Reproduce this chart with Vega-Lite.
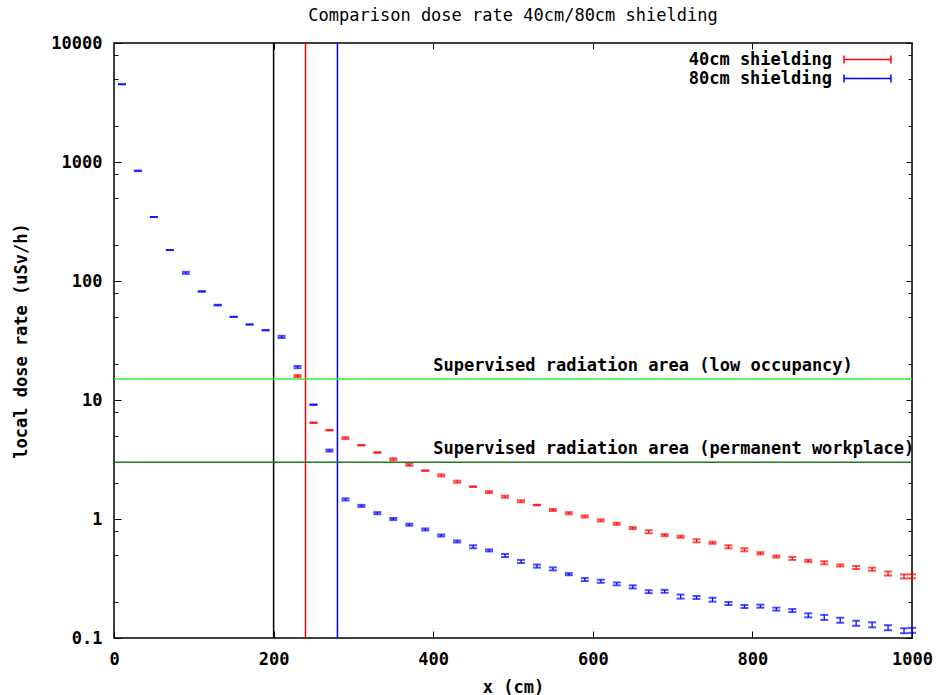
{
  "$schema": "https://vega.github.io/schema/vega-lite/v6.json",
  "width": 798,
  "height": 595,
  "autosize": "none",
  "padding": {"left": 114, "top": 43, "right": 26, "bottom": 57},
  "background": "white",
  "title": {
    "text": "Comparison dose rate 40cm/80cm shielding",
    "font": "DejaVu Sans Mono",
    "fontSize": 17,
    "fontWeight": "normal",
    "color": "black",
    "anchor": "middle",
    "baseline": "alphabetic",
    "offset": -4
  },
  "config": {
    "view": {"stroke": "black", "strokeWidth": 1.5},
    "axis": {
      "domain": false,
      "grid": false,
      "tickColor": "black",
      "tickWidth": 1,
      "labelFont": "DejaVu Sans Mono",
      "labelFontSize": 17,
      "labelFontWeight": "bold",
      "labelColor": "black",
      "labelFlush": false,
      "labelOverlap": false,
      "titleFont": "DejaVu Sans Mono",
      "titleFontSize": 17,
      "titleFontWeight": "bold",
      "titleColor": "black"
    },
    "text": {"font": "DejaVu Sans Mono", "fontSize": 17, "fontWeight": "bold", "color": "black"}
  },
  "datasets": {
    "dose": [
      {"series": "40cm shielding", "x": 230, "y": 15.9, "lo": 15.6, "hi": 16.2},
      {"series": "40cm shielding", "x": 250, "y": 6.44, "lo": 6.40, "hi": 6.48},
      {"series": "40cm shielding", "x": 270, "y": 5.58, "lo": 5.55, "hi": 5.61},
      {"series": "40cm shielding", "x": 290, "y": 4.78, "lo": 4.69, "hi": 4.87},
      {"series": "40cm shielding", "x": 310, "y": 4.17, "lo": 4.15, "hi": 4.19},
      {"series": "40cm shielding", "x": 330, "y": 3.62, "lo": 3.60, "hi": 3.64},
      {"series": "40cm shielding", "x": 350, "y": 3.18, "lo": 3.12, "hi": 3.24},
      {"series": "40cm shielding", "x": 370, "y": 2.85, "lo": 2.80, "hi": 2.91},
      {"series": "40cm shielding", "x": 390, "y": 2.55, "lo": 2.54, "hi": 2.56},
      {"series": "40cm shielding", "x": 410, "y": 2.32, "lo": 2.28, "hi": 2.37},
      {"series": "40cm shielding", "x": 430, "y": 2.06, "lo": 2.02, "hi": 2.10},
      {"series": "40cm shielding", "x": 450, "y": 1.87, "lo": 1.86, "hi": 1.88},
      {"series": "40cm shielding", "x": 470, "y": 1.68, "lo": 1.65, "hi": 1.71},
      {"series": "40cm shielding", "x": 490, "y": 1.54, "lo": 1.51, "hi": 1.57},
      {"series": "40cm shielding", "x": 510, "y": 1.41, "lo": 1.383, "hi": 1.438},
      {"series": "40cm shielding", "x": 530, "y": 1.31, "lo": 1.302, "hi": 1.318},
      {"series": "40cm shielding", "x": 550, "y": 1.19, "lo": 1.167, "hi": 1.213},
      {"series": "40cm shielding", "x": 570, "y": 1.12, "lo": 1.098, "hi": 1.142},
      {"series": "40cm shielding", "x": 590, "y": 1.05, "lo": 1.030, "hi": 1.071},
      {"series": "40cm shielding", "x": 610, "y": 0.973, "lo": 0.954, "hi": 0.992},
      {"series": "40cm shielding", "x": 630, "y": 0.912, "lo": 0.894, "hi": 0.930},
      {"series": "40cm shielding", "x": 650, "y": 0.839, "lo": 0.823, "hi": 0.855},
      {"series": "40cm shielding", "x": 670, "y": 0.781, "lo": 0.759, "hi": 0.804},
      {"series": "40cm shielding", "x": 690, "y": 0.733, "lo": 0.719, "hi": 0.747},
      {"series": "40cm shielding", "x": 710, "y": 0.709, "lo": 0.695, "hi": 0.723},
      {"series": "40cm shielding", "x": 730, "y": 0.656, "lo": 0.637, "hi": 0.675},
      {"series": "40cm shielding", "x": 750, "y": 0.631, "lo": 0.619, "hi": 0.643},
      {"series": "40cm shielding", "x": 770, "y": 0.584, "lo": 0.567, "hi": 0.601},
      {"series": "40cm shielding", "x": 790, "y": 0.551, "lo": 0.535, "hi": 0.567},
      {"series": "40cm shielding", "x": 810, "y": 0.516, "lo": 0.506, "hi": 0.526},
      {"series": "40cm shielding", "x": 830, "y": 0.484, "lo": 0.475, "hi": 0.493},
      {"series": "40cm shielding", "x": 850, "y": 0.466, "lo": 0.453, "hi": 0.480},
      {"series": "40cm shielding", "x": 870, "y": 0.445, "lo": 0.436, "hi": 0.454},
      {"series": "40cm shielding", "x": 890, "y": 0.428, "lo": 0.416, "hi": 0.441},
      {"series": "40cm shielding", "x": 910, "y": 0.407, "lo": 0.399, "hi": 0.415},
      {"series": "40cm shielding", "x": 930, "y": 0.391, "lo": 0.380, "hi": 0.403},
      {"series": "40cm shielding", "x": 950, "y": 0.379, "lo": 0.368, "hi": 0.390},
      {"series": "40cm shielding", "x": 970, "y": 0.348, "lo": 0.335, "hi": 0.362},
      {"series": "40cm shielding", "x": 990, "y": 0.329, "lo": 0.3165, "hi": 0.342},
      {"series": "40cm shielding", "x": 1000, "y": 0.330, "lo": 0.3175, "hi": 0.343},
      {"series": "80cm shielding", "x": 10, "y": 4500, "lo": 4500, "hi": 4500},
      {"series": "80cm shielding", "x": 30, "y": 843, "lo": 838, "hi": 848},
      {"series": "80cm shielding", "x": 50, "y": 345, "lo": 345, "hi": 345},
      {"series": "80cm shielding", "x": 70, "y": 182, "lo": 182, "hi": 182},
      {"series": "80cm shielding", "x": 90, "y": 117, "lo": 114.8, "hi": 119.3},
      {"series": "80cm shielding", "x": 110, "y": 81.7, "lo": 81.2, "hi": 82.2},
      {"series": "80cm shielding", "x": 130, "y": 62.7, "lo": 62.3, "hi": 63.1},
      {"series": "80cm shielding", "x": 150, "y": 50, "lo": 50, "hi": 50},
      {"series": "80cm shielding", "x": 170, "y": 43.1, "lo": 43.1, "hi": 43.1},
      {"series": "80cm shielding", "x": 190, "y": 38.6, "lo": 38.4, "hi": 38.8},
      {"series": "80cm shielding", "x": 210, "y": 33.9, "lo": 33.2, "hi": 34.6},
      {"series": "80cm shielding", "x": 230, "y": 18.9, "lo": 18.5, "hi": 19.3},
      {"series": "80cm shielding", "x": 250, "y": 9.13, "lo": 9.08, "hi": 9.18},
      {"series": "80cm shielding", "x": 270, "y": 3.76, "lo": 3.69, "hi": 3.83},
      {"series": "80cm shielding", "x": 290, "y": 1.46, "lo": 1.43, "hi": 1.49},
      {"series": "80cm shielding", "x": 310, "y": 1.29, "lo": 1.265, "hi": 1.315},
      {"series": "80cm shielding", "x": 330, "y": 1.12, "lo": 1.098, "hi": 1.142},
      {"series": "80cm shielding", "x": 350, "y": 1.0, "lo": 0.981, "hi": 1.020},
      {"series": "80cm shielding", "x": 370, "y": 0.895, "lo": 0.878, "hi": 0.913},
      {"series": "80cm shielding", "x": 390, "y": 0.817, "lo": 0.801, "hi": 0.833},
      {"series": "80cm shielding", "x": 410, "y": 0.727, "lo": 0.713, "hi": 0.741},
      {"series": "80cm shielding", "x": 430, "y": 0.647, "lo": 0.635, "hi": 0.660},
      {"series": "80cm shielding", "x": 450, "y": 0.584, "lo": 0.567, "hi": 0.601},
      {"series": "80cm shielding", "x": 470, "y": 0.544, "lo": 0.534, "hi": 0.555},
      {"series": "80cm shielding", "x": 490, "y": 0.493, "lo": 0.479, "hi": 0.508},
      {"series": "80cm shielding", "x": 510, "y": 0.440, "lo": 0.427, "hi": 0.453},
      {"series": "80cm shielding", "x": 530, "y": 0.402, "lo": 0.390, "hi": 0.414},
      {"series": "80cm shielding", "x": 550, "y": 0.381, "lo": 0.370, "hi": 0.392},
      {"series": "80cm shielding", "x": 570, "y": 0.344, "lo": 0.337, "hi": 0.351},
      {"series": "80cm shielding", "x": 590, "y": 0.310, "lo": 0.301, "hi": 0.319},
      {"series": "80cm shielding", "x": 610, "y": 0.300, "lo": 0.291, "hi": 0.309},
      {"series": "80cm shielding", "x": 630, "y": 0.285, "lo": 0.277, "hi": 0.293},
      {"series": "80cm shielding", "x": 650, "y": 0.269, "lo": 0.261, "hi": 0.277},
      {"series": "80cm shielding", "x": 670, "y": 0.245, "lo": 0.238, "hi": 0.252},
      {"series": "80cm shielding", "x": 690, "y": 0.247, "lo": 0.240, "hi": 0.254},
      {"series": "80cm shielding", "x": 710, "y": 0.223, "lo": 0.2145, "hi": 0.2318},
      {"series": "80cm shielding", "x": 730, "y": 0.219, "lo": 0.2127, "hi": 0.2255},
      {"series": "80cm shielding", "x": 750, "y": 0.210, "lo": 0.202, "hi": 0.218},
      {"series": "80cm shielding", "x": 770, "y": 0.195, "lo": 0.1894, "hi": 0.2008},
      {"series": "80cm shielding", "x": 790, "y": 0.184, "lo": 0.1787, "hi": 0.1894},
      {"series": "80cm shielding", "x": 810, "y": 0.185, "lo": 0.1797, "hi": 0.1905},
      {"series": "80cm shielding", "x": 830, "y": 0.175, "lo": 0.170, "hi": 0.180},
      {"series": "80cm shielding", "x": 850, "y": 0.170, "lo": 0.1651, "hi": 0.175},
      {"series": "80cm shielding", "x": 870, "y": 0.155, "lo": 0.1491, "hi": 0.1611},
      {"series": "80cm shielding", "x": 890, "y": 0.149, "lo": 0.1419, "hi": 0.1564},
      {"series": "80cm shielding", "x": 910, "y": 0.141, "lo": 0.1343, "hi": 0.148},
      {"series": "80cm shielding", "x": 930, "y": 0.133, "lo": 0.1267, "hi": 0.1396},
      {"series": "80cm shielding", "x": 950, "y": 0.129, "lo": 0.1229, "hi": 0.1354},
      {"series": "80cm shielding", "x": 970, "y": 0.122, "lo": 0.1162, "hi": 0.1281},
      {"series": "80cm shielding", "x": 990, "y": 0.115, "lo": 0.1096, "hi": 0.1207},
      {"series": "80cm shielding", "x": 1000, "y": 0.116, "lo": 0.1105, "hi": 0.1218}
    ],
    "walls": [
      {"wall": "source wall", "x": 200},
      {"wall": "40cm shielding", "x": 240},
      {"wall": "80cm shielding", "x": 280}
    ],
    "limits": [
      {"area": "low occupancy", "level": 15, "label": "Supervised radiation area (low occupancy)"},
      {"area": "permanent workplace", "level": 3, "label": "Supervised radiation area (permanent workplace)"}
    ]
  },
  "layer": [
    {
      "data": {"name": "walls"},
      "transform": [{"filter": "datum.wall == 'source wall'"}],
      "mark": {"type": "rule", "stroke": "#000000", "strokeWidth": 1.5},
      "encoding": {
        "x": {"field": "x", "type": "quantitative", "scale": {"domain": [0, 1000], "nice": false, "zero": false}, "axis": null}
      }
    },
    {
      "data": {"name": "walls"},
      "transform": [{"filter": "datum.wall == '40cm shielding'"}],
      "mark": {"type": "rule", "stroke": "#ff0000", "strokeWidth": 1.5},
      "encoding": {
        "x": {"field": "x", "type": "quantitative", "axis": null}
      }
    },
    {
      "data": {"name": "walls"},
      "transform": [{"filter": "datum.wall == '80cm shielding'"}],
      "mark": {"type": "rule", "stroke": "#0000ff", "strokeWidth": 1.5},
      "encoding": {
        "x": {"field": "x", "type": "quantitative", "axis": null}
      }
    },
    {
      "data": {"name": "limits"},
      "transform": [{"filter": "datum.area == 'low occupancy'"}],
      "mark": {"type": "rule", "stroke": "#33ee33", "strokeWidth": 1.5},
      "encoding": {
        "y": {"field": "level", "type": "quantitative", "scale": {"type": "log", "domain": [0.1, 10000], "nice": false}, "axis": {"orient": "right", "values": [0.2, 0.5, 0.8, 2, 5, 8, 20, 50, 80, 200, 500, 800, 2000, 5000, 8000], "labels": false, "tickSize": -4, "title": null}}
      }
    },
    {
      "data": {"name": "limits"},
      "transform": [{"filter": "datum.area == 'permanent workplace'"}],
      "mark": {"type": "rule", "stroke": "#1e7b1e", "strokeWidth": 1.5},
      "encoding": {
        "y": {"field": "level", "type": "quantitative", "axis": {"orient": "left", "values": [0.2, 0.5, 0.8, 2, 5, 8, 20, 50, 80, 200, 500, 800, 2000, 5000, 8000], "labels": false, "tickSize": -4, "title": null}}
      }
    },
    {
      "data": {"name": "limits"},
      "mark": {"type": "text", "align": "left", "baseline": "middle", "dy": -13},
      "encoding": {
        "x": {"datum": 400, "type": "quantitative", "axis": null},
        "y": {"field": "level", "type": "quantitative", "axis": null},
        "text": {"field": "label"}
      }
    },
    {
      "data": {"name": "dose"},
      "mark": {"type": "rule", "strokeWidth": 1.2},
      "encoding": {
        "x": {"field": "x", "type": "quantitative", "axis": {"orient": "bottom", "values": [0, 200, 400, 600, 800, 1000], "format": "d", "tickSize": -7, "labelPadding": 20, "title": "x (cm)", "titlePadding": 12}},
        "y": {"field": "lo", "type": "quantitative", "axis": {"orient": "left", "values": [0.1, 1, 10, 100, 1000, 10000], "format": "~g", "tickSize": -7, "labelPadding": 19, "title": "local dose rate (uSv/h)", "titlePadding": 20}},
        "y2": {"field": "hi"},
        "color": {
          "field": "series",
          "type": "nominal",
          "scale": {"domain": ["40cm shielding", "80cm shielding"], "range": ["#ff0000", "#0000ff"]},
          "legend": {
            "orient": "none",
            "legendX": 743,
            "legendY": 6,
            "title": null,
            "padding": 0,
            "rowPadding": 0,
            "symbolType": "M-2.47,0H2.47M-2.47,-0.42V0.42M2.47,-0.42V0.42",
            "symbolSize": 361,
            "symbolStrokeWidth": 1.5,
            "labelAlign": "right",
            "labelOffset": -46,
            "labelFont": "DejaVu Sans Mono",
            "labelFontSize": 17,
            "labelFontWeight": "bold",
            "labelColor": "black",
            "labelLimit": 400
          }
        }
      }
    },
    {
      "data": {"name": "dose"},
      "mark": {"type": "tick", "orient": "horizontal", "size": 8, "thickness": 2},
      "encoding": {
        "x": {"field": "x", "type": "quantitative", "axis": {"orient": "top", "values": [200, 400, 600, 800], "labels": false, "tickSize": -6, "title": null}},
        "y": {"field": "lo", "type": "quantitative", "axis": {"orient": "right", "values": [0.1, 1, 10, 100, 1000, 10000], "labels": false, "tickSize": -6, "title": null}},
        "color": {"field": "series", "type": "nominal", "legend": null}
      }
    },
    {
      "data": {"name": "dose"},
      "mark": {"type": "tick", "orient": "horizontal", "size": 8, "thickness": 2},
      "encoding": {
        "x": {"field": "x", "type": "quantitative", "axis": null},
        "y": {"field": "hi", "type": "quantitative", "axis": null},
        "color": {"field": "series", "type": "nominal", "legend": null}
      }
    }
  ],
  "resolve": {"axis": {"x": "independent", "y": "independent"}}
}
